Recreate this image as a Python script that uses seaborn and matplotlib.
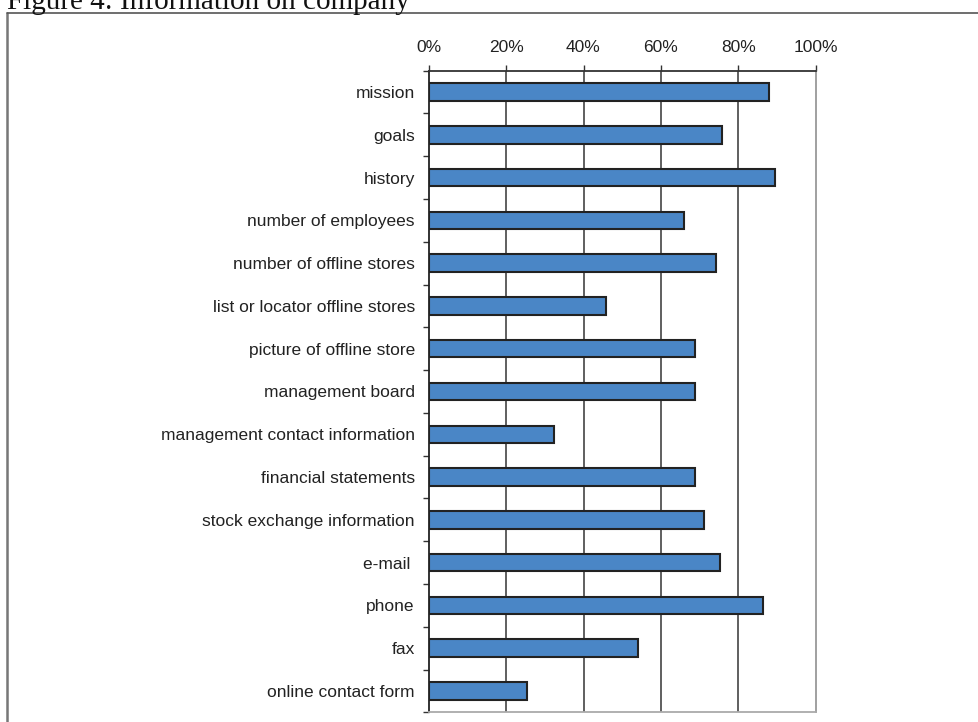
import matplotlib
matplotlib.use("Agg")
import matplotlib.pyplot as plt
from matplotlib.lines import Line2D
from matplotlib.ticker import FixedLocator, PercentFormatter
import seaborn as sns
import pandas as pd

categories = [
    "mission", "goals", "history", "number of employees",
    "number of offline stores", "list or locator offline stores",
    "picture of offline store", "management board",
    "management contact information", "financial statements",
    "stock exchange information", "e-mail ", "phone", "fax",
    "online contact form",
]
values = [88.0, 75.7, 89.6, 65.9, 74.3, 45.7, 68.8, 68.7, 32.5, 68.7,
          71.2, 75.4, 86.5, 54.2, 25.4]
x_ticks = [0, 20, 40, 60, 80, 100]
title = "Figure 4: Information on company"

df = pd.DataFrame({"category": categories, "value": values})

sns.set_style("white")
plt.rcParams["font.family"] = ["Liberation Sans", "DejaVu Sans"]

W, H = 979, 722
fig = plt.figure(figsize=(W / 100, H / 100), dpi=100)
ax = fig.add_axes([428.7 / W, 1 - 712.3 / H, (815.7 - 428.7) / W, (712.3 - 70.7) / H])

sns.barplot(data=df, x="value", y="category", orient="h", color="#4a86c6",
            saturation=1, width=0.41, edgecolor="#222222", linewidth=1.5, ax=ax,
            zorder=3)

ax.set_xlim(0, 100)
ax.set_ylim(len(categories) - 0.5, -0.5)
ax.set_xlabel("")
ax.set_ylabel("")
ax.xaxis.set_major_locator(FixedLocator(x_ticks))
ax.xaxis.set_major_formatter(PercentFormatter(decimals=0))
ax.xaxis.tick_top()
ax.xaxis.set_label_position("top")
ax.tick_params(axis="x", which="major", top=True, bottom=False, length=4,
               width=1, color="#333333", labelsize=12.5, labelcolor="#222222", pad=7.5)
ax.tick_params(axis="y", which="major", left=False, length=0, labelsize=12.5,
               labelcolor="#222222", pad=10)
ax.yaxis.set_minor_locator(FixedLocator([i - 0.5 for i in range(len(categories) + 1)]))
ax.tick_params(axis="y", which="minor", left=True, length=4, width=1, color="#333333")

for v in x_ticks[1:-1]:
    ax.axvline(v, color="#444444", linewidth=1.2, zorder=1)

ax.spines["top"].set_color("#333333")
ax.spines["left"].set_color("#222222")
ax.spines["right"].set_color("#999999")
ax.spines["bottom"].set_color("#aaaaaa")
for s in ax.spines.values():
    s.set_linewidth(1.3)
    s.set_visible(True)

# frame lines of the figure box
fig.add_artist(Line2D([7.3 / W, 7.3 / W], [0, 1 - 12.7 / H], color="#777777", linewidth=1.8))
fig.add_artist(Line2D([7.3 / W, 1], [1 - 12.7 / H, 1 - 12.7 / H], color="#555555", linewidth=1.2))

fig.text(7 / W, 1 - 9 / H, title, family=["Liberation Serif", "DejaVu Serif"],
         fontsize=21, va="baseline", ha="left", color="#111111")

fig.savefig("out.png", dpi=100)
